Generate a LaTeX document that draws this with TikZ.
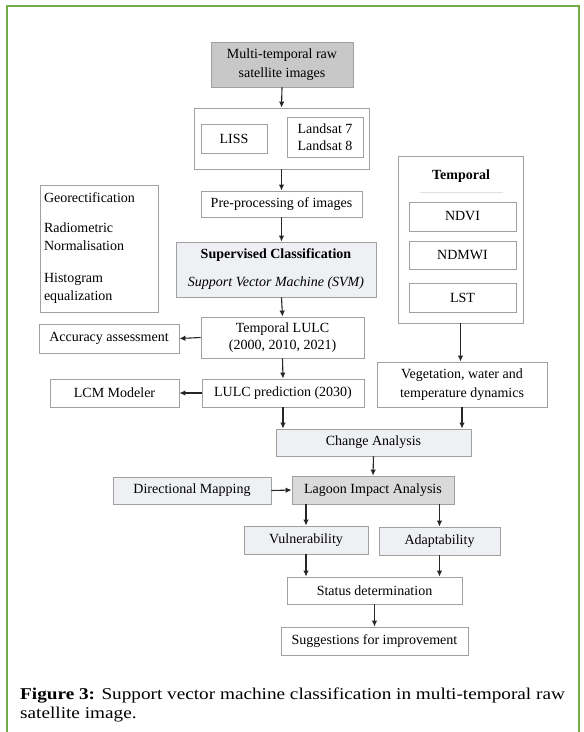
\documentclass[tikz,border=0pt]{standalone}
\usepackage{fontspec}
\setmainfont{Liberation Serif}
\usetikzlibrary{arrows.meta,shadows}
\definecolor{frameg}{HTML}{70AD47}
\definecolor{darkfill}{HTML}{C8C8C8}
\definecolor{midfill}{HTML}{DADADA}
\definecolor{lightfill}{HTML}{EFF0F4}
\definecolor{boxline}{HTML}{A0A0A0}
\tikzset{
  box/.style={draw=boxline, line width=0.8pt, fill=white, inner sep=1pt,
    align=center, font=\rmfamily\fontsize{14}{18}\selectfont,
    drop shadow={shadow xshift=0.9pt, shadow yshift=-0.9pt, fill=black!35, opacity=0.6}},
  arr/.style={draw=black!85, line width=1.1pt, -{Latex[length=6pt,width=5.5pt]}},
}
\begin{document}
\begin{tikzpicture}[x=1pt,y=-1pt]
\useasboundingbox (0,0) rectangle (584,732);
\draw[frameg, line width=1.2pt] (7,733) -- (7,6) -- (579,6) -- (579,733);

% main column
\node[box, fill=darkfill, minimum width=142pt, minimum height=45pt] (multi) at (282,64.5) {Multi-temporal raw\\[1pt]satellite images};
\node[box, minimum width=175pt, minimum height=61pt] (src) at (281.5,138.5) {};
\node[box, minimum width=66pt, minimum height=29pt] (liss) at (234,138.5) {LISS};
\node[box, minimum width=76pt, minimum height=40pt, font=\rmfamily\fontsize{14}{17}\selectfont] (landsat) at (325,137) {Landsat 7\\Landsat 8};
\node[box, minimum width=161pt, minimum height=26pt] (pre) at (281.5,204) {Pre-processing of images};
\node[box, fill=lightfill, minimum width=200pt, minimum height=55pt] (svm) at (276,269.5) {\textbf{Supervised Classification}\\[10pt]\textit{Support Vector Machine (SVM)}};
\node[box, minimum width=163pt, minimum height=41pt, font=\rmfamily\fontsize{14}{17}\selectfont] (tlulc) at (282.5,337.5) {Temporal LULC\\(2000, 2010, 2021)};
\node[box, minimum width=162pt, minimum height=28pt] (pred) at (283,393) {LULC prediction (2030)};

% left column
\node[box, minimum width=118pt, minimum height=127pt, align=left, text width=110pt] (geo) at (99,248.5) {Georectification\\[12pt]Radiometric\\Normalisation\\[14pt]Histogram\\equalization};
\node[box, minimum width=140pt, minimum height=29pt] (acc) at (109,338.5) {Accuracy assessment};
\node[box, minimum width=129pt, minimum height=28pt] (lcm) at (114.5,393) {LCM Modeler};

% right column
\node[box, minimum width=125pt, minimum height=167pt] (temp) at (460.5,239.5) {};
\node[font=\rmfamily\fontsize{14}{17}\selectfont\bfseries] (temptitle) at (461,176) {Temporal};
\draw[black!12, line width=0.8pt] (420,192) -- (503,192);
\node[box, minimum width=107pt, minimum height=29pt] (ndvi) at (462.5,216.5) {NDVI};
\node[box, minimum width=107pt, minimum height=28pt] (ndmwi) at (462.5,255) {NDMWI};
\node[box, minimum width=107pt, minimum height=29pt] (lst) at (462.5,297.5) {LST};
\node[box, minimum width=170pt, minimum height=45pt, font=\rmfamily\fontsize{14}{19}\selectfont] (veg) at (462,384.5) {Vegetation, water and\\temperature dynamics};

% lower part
\node[box, fill=lightfill, minimum width=195pt, minimum height=27pt] (change) at (373.5,442.5) {Change Analysis};
\node[box, fill=midfill, minimum width=162pt, minimum height=28pt] (lagoon) at (373,490) {Lagoon Impact Analysis};
\node[box, fill=lightfill, minimum width=158pt, minimum height=27pt] (dir) at (192,490.5) {Directional Mapping};
\node[box, fill=lightfill, minimum width=124pt, minimum height=28pt] (vul) at (306,540) {Vulnerability};
\node[box, fill=lightfill, minimum width=121pt, minimum height=28pt] (ada) at (439.5,541) {Adaptability};
\node[box, minimum width=175pt, minimum height=27pt] (status) at (374.5,590.5) {Status determination};
\node[box, minimum width=187pt, minimum height=28pt] (sugg) at (374.5,641) {Suggestions for improvement};

% connectors
\draw[arr] (multi.south) -- (src.north);
\draw[arr] (src.south) -- (pre.north);
\draw[arr] (pre.south) -- (pre.south |- svm.north);
\draw[arr] (pre.south |- svm.south) -- (tlulc.north);
\draw[arr] (tlulc.south) -- (pred.north);
\draw[arr] (tlulc.west) -- (acc.east);
\draw[arr] (pred.west) -- (lcm.east);
\draw[arr] (temp.south) -- (temp.south |- veg.north);
\draw[arr] (pred.south) -- (pred.south |- change.north);
\draw[arr] (veg.south) -- (veg.south |- change.north);
\draw[arr] (change.south) -- (lagoon.north);
\draw[arr] (dir.east) -- (lagoon.west);
\draw[arr] (vul.north |- lagoon.south) -- (vul.north);
\draw[arr] (ada.north |- lagoon.south) -- (ada.north);
\draw[arr] (vul.south) -- (vul.south |- status.north);
\draw[arr] (ada.south) -- (ada.south |- status.north);
\draw[arr] (status.south) -- (sugg.north);

% caption
\node[anchor=north west, inner sep=0pt,
  font=\rmfamily\fontsize{16.5}{19}\selectfont] (cap) at (20,686)
  {\scalebox{1.165}[1]{\begin{tabular}{@{}l@{}}\textbf{Figure 3:} Support vector machine classification in multi-temporal raw\\satellite image.\end{tabular}}};
\end{tikzpicture}
\end{document}
